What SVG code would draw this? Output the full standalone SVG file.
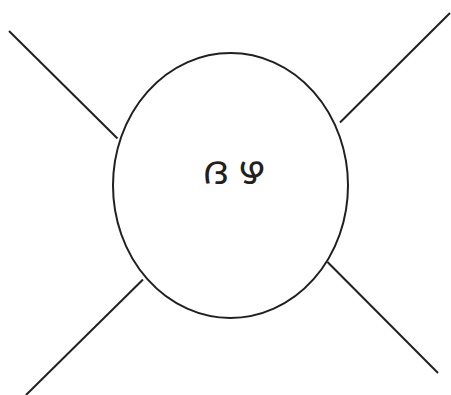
<svg xmlns="http://www.w3.org/2000/svg" width="451" height="395" viewBox="0 0 451 395">
<style>
.ln{stroke:#231f20;stroke-width:2;fill:none}
.t{font-family:"Noto Sans Malayalam","Noto Sans",sans-serif;font-size:39px;word-spacing:-1px;fill:#231f20;text-anchor:middle}
</style>
<rect width="451" height="395" fill="#fff"/>
<g id="connectors">
<line class="ln" x1="9" y1="31" x2="117.5" y2="138.5"/>
<line class="ln" x1="450" y1="13" x2="340" y2="122.5"/>
<line class="ln" x1="143" y1="279.5" x2="26" y2="395"/>
<line class="ln" x1="327.5" y1="262" x2="438" y2="373"/>
</g>
<g id="node">
<ellipse class="ln" cx="230.5" cy="185.5" rx="117.5" ry="132.5"/>
<text class="t" x="234" y="184">ദ ഴ</text>
</g>
</svg>
